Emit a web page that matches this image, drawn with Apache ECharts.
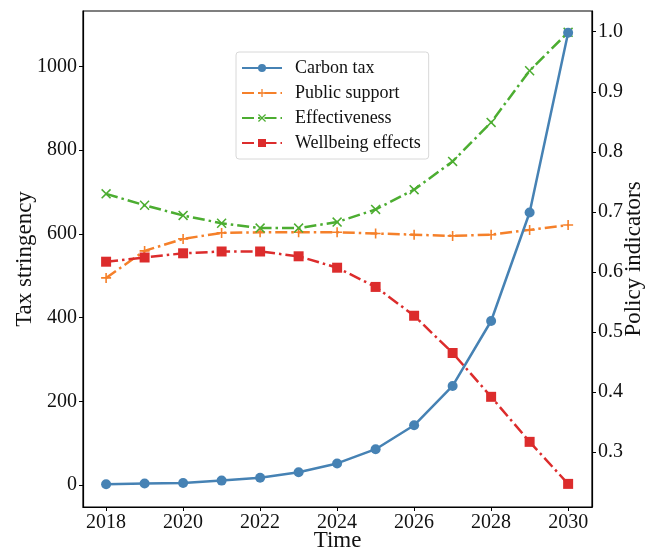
<!DOCTYPE html>
<html>
<head>
<meta charset="utf-8">
<script src="https://cdn.jsdelivr.net/npm/echarts@6/dist/echarts.min.js"></script>
<style>
  html, body { margin: 0; padding: 0; background: #fff; }
  #chart { width: 654px; height: 549px; }
</style>
</head>
<body>
<div id="chart"></div>
<script>
// Yearly series
const years = [2018, 2019, 2020, 2021, 2022, 2023, 2024, 2025, 2026, 2027, 2028, 2029, 2030];
const carbonTax = [2.4, 4, 5.5, 11, 18, 31, 52, 86, 143, 237, 392, 651, 1080];
const publicSupport = [0.590, 0.635, 0.655, 0.665, 0.666, 0.666, 0.666, 0.664, 0.662, 0.660, 0.662, 0.670, 0.678];
const effectiveness = [0.730, 0.711, 0.694, 0.681, 0.673, 0.673, 0.683, 0.704, 0.737, 0.784, 0.849, 0.935, 0.999];
const wellbeing = [0.617, 0.624, 0.631, 0.634, 0.634, 0.626, 0.607, 0.575, 0.527, 0.465, 0.392, 0.317, 0.247];

// Tick labels
const xTicks = [2018, 2020, 2022, 2024, 2026, 2028, 2030];
const leftTicks = [0, 200, 400, 600, 800, 1000];
const rightTicks = [0.3, 0.4, 0.5, 0.6, 0.7, 0.8, 0.9, 1.0];

const FONT = '"Liberation Serif", "DejaVu Serif", serif';
const C = { blue: '#4682b4', orange: '#f5802a', green: '#4cad31', red: '#dc2c2c' };
const dashDot = [12, 4, 2.5, 4];

const plusPath = 'path://M4.2,0H5.8V4.2H10V5.8H5.8V10H4.2V5.8H0V4.2H4.2Z';
const crossPath = 'path://M0,1.1L1.1,0L5,3.9L8.9,0L10,1.1L6.1,5L10,8.9L8.9,10L5,6.1L1.1,10L0,8.9L3.9,5Z';

const pairs = arr => years.map((y, i) => [y, arr[i]]);

const tickText = { fontFamily: FONT, fontSize: 20, color: '#111' };
const nameText = { fontFamily: FONT, fontSize: 23, color: '#111' };

const chart = echarts.init(document.getElementById('chart'), null, { renderer: 'canvas' });
chart.setOption({
  animation: false,
  backgroundColor: '#fff',
  grid: {
    left: 83, right: 62, top: 11, bottom: 42,
    outerBoundsMode: 'none',
    containLabel: false,
    show: true, borderColor: '#000', borderWidth: 1.2, backgroundColor: 'transparent'
  },
  legend: {
    orient: 'vertical',
    left: 236, top: 52,
    padding: [6, 8, 6, 5],
    itemWidth: 40, itemHeight: 10, itemGap: 5,
    backgroundColor: '#fff',
    borderColor: '#d8d8d8', borderWidth: 1, borderRadius: 3,
    textStyle: { fontFamily: FONT, fontSize: 18, color: '#111', padding: [0, 0, 0, 8], lineHeight: 20 },
    data: ['Carbon tax', 'Public support', 'Effectiveness', 'Wellbeing effects']
  },
  xAxis: {
    type: 'value',
    min: 2017.4, max: 2030.62,
    name: 'Time', nameLocation: 'middle', nameGap: 22, nameMoveOverlap: false,
    nameTextStyle: nameText,
    axisLine: { show: true, onZero: false, lineStyle: { color: '#000', width: 1.2 } },
    axisTick: { show: true, length: 4, lineStyle: { color: '#000' }, customValues: xTicks },
    axisLabel: { ...tickText, margin: 6, customValues: xTicks, formatter: v => String(v) },
    splitLine: { show: false }
  },
  yAxis: [
    {
      type: 'value',
      min: -52, max: 1132,
      name: 'Tax stringency', nameLocation: 'middle', nameGap: 47, nameRotate: 90, nameMoveOverlap: false,
      nameTextStyle: nameText,
      axisLine: { show: true, onZero: false, lineStyle: { color: '#000', width: 1.2 } },
      axisTick: { show: true, length: 4, lineStyle: { color: '#000' }, customValues: leftTicks },
      axisLabel: { ...tickText, margin: 6, customValues: leftTicks, formatter: v => String(v) },
      splitLine: { show: false }
    },
    {
      type: 'value',
      position: 'right',
      min: 0.2085, max: 1.0345,
      name: 'Policy indicators', nameLocation: 'middle', nameGap: 30, nameRotate: 90, nameMoveOverlap: false,
      nameTextStyle: nameText,
      axisLine: { show: true, onZero: false, lineStyle: { color: '#000', width: 1.2 } },
      axisTick: { show: true, length: 4, lineStyle: { color: '#000' }, customValues: rightTicks },
      axisLabel: { ...tickText, margin: 6, customValues: rightTicks, formatter: v => v.toFixed(1) },
      splitLine: { show: false }
    }
  ],
  series: [
    {
      name: 'Carbon tax', type: 'line', yAxisIndex: 0,
      data: pairs(carbonTax),
      symbol: 'circle', symbolSize: 10,
      lineStyle: { color: C.blue, width: 2.5 },
      itemStyle: { color: C.blue },
      z: 5
    },
    {
      name: 'Public support', type: 'line', yAxisIndex: 1,
      data: pairs(publicSupport),
      symbol: plusPath, symbolSize: 10,
      lineStyle: { color: C.orange, width: 2.5, type: dashDot },
      itemStyle: { color: C.orange }
    },
    {
      name: 'Effectiveness', type: 'line', yAxisIndex: 1,
      data: pairs(effectiveness),
      symbol: crossPath, symbolSize: 10,
      lineStyle: { color: C.green, width: 2.5, type: dashDot },
      itemStyle: { color: C.green }
    },
    {
      name: 'Wellbeing effects', type: 'line', yAxisIndex: 1,
      data: pairs(wellbeing),
      symbol: 'rect', symbolSize: 10,
      lineStyle: { color: C.red, width: 2.5, type: dashDot },
      itemStyle: { color: C.red }
    }
  ]
});
</script>
</body>
</html>
